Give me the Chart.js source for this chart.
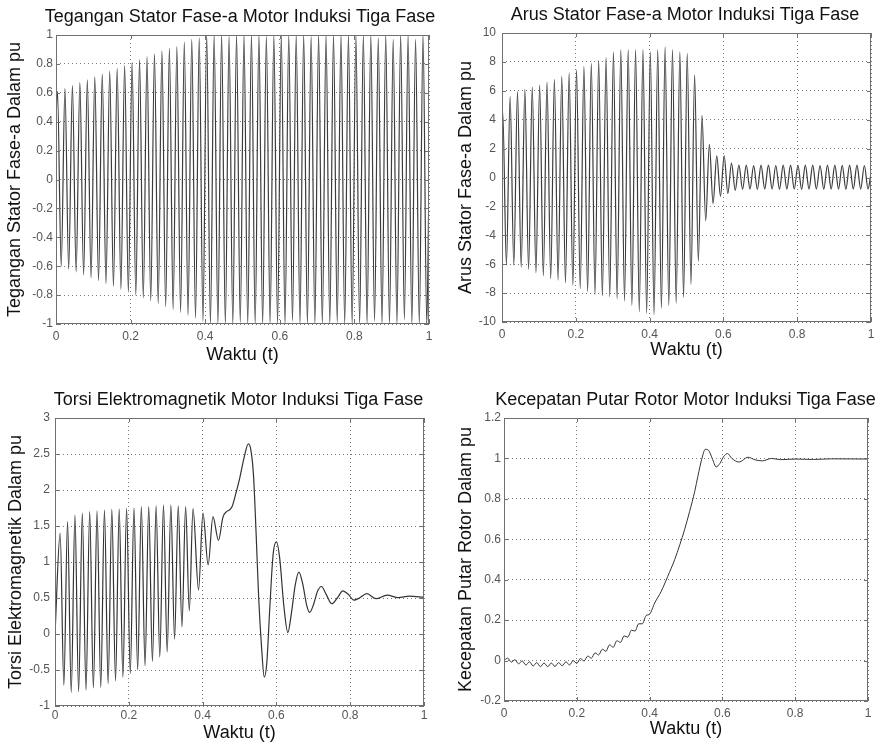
<!DOCTYPE html>
<html>
<head>
<meta charset="utf-8">
<script src="https://cdn.jsdelivr.net/npm/chart.js@4.4.1/dist/chart.umd.min.js"></script>
<style>
  html, body { margin: 0; padding: 0; background: #fff; overflow: hidden; }
  #wrap { position: relative; width: 884px; height: 744px; overflow: hidden; }
  #wrap canvas { position: absolute; }
</style>
</head>
<body>
<div id="wrap">
  <canvas id="teganganChart" width="480" height="372" style="left:0;top:0"></canvas>
  <canvas id="arusChart" width="486" height="372" style="left:442px;top:0"></canvas>
  <canvas id="torsiChart" width="477" height="372" style="left:0;top:372px"></canvas>
  <canvas id="kecepatanChart" width="487" height="372" style="left:442px;top:372px"></canvas>
</div>
<script>
var FontFam = "'Liberation Sans', Arial, sans-serif";
var HalfCycle = 0.01; // 50 Hz -> a peak or a trough every 0.01 s

// tegangan stator fase-a (peaks and troughs)
var voltStart = 0.42;
var voltFirstT = 0.004;
var voltPeaks = [
  0.61, 0.63, 0.65, 0.67, 0.69, 0.71, 0.73, 0.75, 0.77, 0.79,
  0.81, 0.83, 0.85, 0.87, 0.89, 0.91, 0.92, 0.95, 0.97, 0.98,
  1.0, 1.0, 1.0, 0.99, 1.0, 1.0, 1.0, 1.0, 0.99, 1.0,
  1.0, 1.0, 1.0, 1.0, 0.99, 1.0, 1.0, 1.0, 1.0, 1.0,
  1.0, 1.0, 1.0, 0.98, 1.0, 0.97, 1.0, 1.0, 0.97, 1.0
];
var voltTroughs = [
  -0.60, -0.62, -0.64, -0.66, -0.68, -0.70, -0.72, -0.74, -0.76, -0.78,
  -0.80, -0.82, -0.84, -0.86, -0.88, -0.90, -0.92, -0.94, -0.96, -0.98,
  -1.0, -1.0, -1.0, -1.0, -0.99, -1.0, -1.0, -1.0, -1.0, -1.0,
  -1.0, -0.98, -1.0, -1.0, -1.0, -1.0, -1.0, -0.99, -1.0, -1.0,
  -1.0, -1.0, -0.98, -1.0, -1.0, -1.0, -0.97, -1.0, -1.0, -1.0
];
var voltEnd = 0.0;

// arus stator fase-a
var arusStart = 3.8;
var arusFirstT = 0.002;
var arusPeaks = [
  4.5, 5.6, 5.95, 6.1, 6.25, 6.4, 6.6, 6.8, 7.0, 7.25,
  7.45, 7.7, 7.9, 8.1, 8.3, 8.7, 8.85, 8.85, 8.85, 8.85,
  8.7, 8.85, 9.05, 8.85, 8.7, 8.6, 7.1, 4.3, 2.3, 1.5,
  1.5, 1.0, 0.85, 0.85, 0.82, 0.85, 0.85, 0.83, 0.85, 0.85,
  0.84, 0.85, 0.85, 0.83, 0.85, 0.85, 0.84, 0.85, 0.85, 0.83
];
var arusTroughs = [
  -6.05, -6.05, -6.2, -6.35, -6.6, -6.8, -7.0, -7.1, -7.3, -7.45,
  -7.7, -7.9, -8.1, -8.2, -8.25, -8.4, -8.55, -8.85, -9.3, -9.4,
  -9.5, -9.05, -8.85, -8.7, -8.3, -7.4, -5.8, -3.0, -1.8, -1.3,
  -1.1, -0.9, -0.82, -0.8, -0.82, -0.8, -0.8, -0.82, -0.8, -0.8,
  -0.82, -0.8, -0.8, -0.82, -0.8, -0.8, -0.82, -0.8, -0.8, -0.8
];
var arusEnd = 0.3;

// torsi elektromagnetik
var torsiStart = 0.0;
var torsiFirstT = 0.014;
var torsiPeaks = [1.40, 1.56, 1.65, 1.68, 1.70, 1.71, 1.72, 1.73, 1.735, 1.745,
                  1.75, 1.77, 1.77, 1.78, 1.79, 1.79, 1.78, 1.77, 1.74];
var torsiTroughs = [-0.71, -0.81, -0.80, -0.78, -0.75, -0.74, -0.69, -0.65, -0.60, -0.55,
                    -0.50, -0.44, -0.38, -0.32, -0.25, -0.07, 0.10, 0.32];
var torsiTailT = [0.389, 0.401, 0.415, 0.428, 0.443, 0.455, 0.465, 0.472, 0.48, 0.49,
                  0.5, 0.512, 0.524, 0.531, 0.538, 0.545, 0.552, 0.56, 0.567, 0.574,
                  0.582, 0.591, 0.6, 0.609, 0.62, 0.631, 0.641, 0.651, 0.661, 0.672,
                  0.682, 0.69, 0.7, 0.712, 0.722, 0.735, 0.75, 0.765, 0.78, 0.795,
                  0.81, 0.825, 0.845, 0.87, 0.9, 0.93, 0.96, 1.0];
var torsiTailV = [0.61, 1.68, 0.96, 1.63, 1.3, 1.62, 1.7, 1.72, 1.77, 1.95,
                  2.15, 2.44, 2.64, 2.55, 2.2, 1.4, 0.5, -0.2, -0.6, -0.4,
                  0.35, 1.1, 1.28, 1.05, 0.4, 0.02, 0.3, 0.68, 0.86, 0.68,
                  0.4, 0.3, 0.4, 0.6, 0.66, 0.55, 0.42, 0.5, 0.6, 0.55,
                  0.47, 0.5, 0.56, 0.49, 0.54, 0.505, 0.525, 0.51];

// kecepatan putar rotor
var speedT = [0, 0.01, 0.02, 0.03, 0.04, 0.05, 0.06, 0.07, 0.08, 0.09,
              0.1, 0.11, 0.12, 0.13, 0.14, 0.15, 0.16, 0.17, 0.18, 0.19,
              0.2, 0.21, 0.22, 0.23, 0.24, 0.25, 0.26, 0.27, 0.28, 0.29,
              0.3, 0.31, 0.32, 0.33, 0.34, 0.35, 0.36, 0.37, 0.38, 0.39,
              0.4, 0.414, 0.432, 0.45, 0.469, 0.483, 0.496, 0.51, 0.524, 0.533,
              0.543, 0.553, 0.562, 0.572, 0.583, 0.593, 0.603, 0.614, 0.626, 0.646,
              0.67, 0.69, 0.71, 0.735, 0.76, 0.8, 0.85, 0.9, 1.0];
var speedV = [0.0, 0.012, -0.008, 0.004, -0.016, -0.002, -0.022, -0.006, -0.027, -0.010,
              -0.030, -0.012, -0.030, -0.012, -0.029, -0.010, -0.026, -0.006, -0.022, 0.0,
              -0.014, 0.010, -0.002, 0.022, 0.012, 0.038, 0.028, 0.056, 0.046, 0.078,
              0.066, 0.098, 0.090, 0.122, 0.116, 0.150, 0.146, 0.182, 0.182, 0.222,
              0.230, 0.285, 0.343, 0.417, 0.5, 0.573, 0.647, 0.738, 0.837, 0.915,
              0.995, 1.045, 1.04, 1.0, 0.958, 0.975, 1.008, 1.024, 1.0, 0.982,
              1.006, 0.993, 0.988, 1.0, 0.994, 0.997, 0.995, 0.998, 0.997];


// peaks and troughs alternate on the 50 Hz grid
function waveform(start, firstT, peaks, troughs, end) {
    var pts = [{ x: 0, y: start }];
    var n = peaks.length + troughs.length;
    for (var i = 0; i < n; i++) {
        var v = (i % 2 === 0) ? peaks[i / 2] : troughs[(i - 1) / 2];
        pts.push({ x: firstT + i * HalfCycle, y: v });
    }
    if (end !== null) pts.push({ x: 1, y: end });
    return pts;
}

function pairs(ts, vs) {
    var pts = [];
    for (var i = 0; i < ts.length; i++) pts.push({ x: ts[i], y: vs[i] });
    return pts;
}

// matlab prints 1, 0.8, 0 ... not 1.0, 0.0
function shortNum(v) {
    return String(Number(v.toFixed(4)));
}

// MATLAB style box with inward tick marks
const boxPlugin = {
    id: 'boxPlugin',
    afterDraw(chart) {
        var a = chart.chartArea, c = chart.ctx;
        var sx = chart.scales.x, sy = chart.scales.y;
        c.save();
        c.strokeStyle = '#707070';
        c.lineWidth = 1;
        c.strokeRect(a.left + 0.5, a.top + 0.5, a.width - 1, a.height - 1);
        c.beginPath();
        sx.ticks.forEach(function (t) {
            var px = Math.round(sx.getPixelForValue(t.value)) + 0.5;
            c.moveTo(px, a.bottom); c.lineTo(px, a.bottom - 4);
            c.moveTo(px, a.top); c.lineTo(px, a.top + 4);
        });
        sy.ticks.forEach(function (t) {
            var py = Math.round(sy.getPixelForValue(t.value)) + 0.5;
            c.moveTo(a.left, py); c.lineTo(a.left + 4, py);
            c.moveTo(a.right, py); c.lineTo(a.right - 4, py);
        });
        c.stroke();
        c.restore();
    }
};

function makeChart(id, pts, p) {
    return new Chart(document.getElementById(id), {
        type: 'line',
        data: {
            datasets: [{
                data: pts,
                borderColor: p.lineColor,
                borderWidth: p.lineWidth,
                pointRadius: 0,
                fill: false,
                cubicInterpolationMode: 'monotone'
            }]
        },
        options: {
            responsive: false,
            animation: false,
            events: [],
            layout: { padding: 0 },
            plugins: {
                legend: { display: false },
                tooltip: { enabled: false },
                title: {
                    display: true,
                    text: p.title,
                    color: '#111',
                    font: { family: FontFam, size: 18, weight: 'normal', lineHeight: 1.2 },
                    padding: { top: p.titleTop, bottom: p.titleBottom }
                }
            },
            scales: {
                x: {
                    type: 'linear',
                    min: 0,
                    max: 1,
                    ticks: { stepSize: 0.2, color: '#555', padding: p.xTickPad, maxRotation: 0,
                             font: { family: FontFam, size: 12 }, callback: shortNum },
                    grid: { color: '#7a7a7a', drawTicks: false },
                    border: { display: false, dash: [1, 3] },
                    title: { display: true, text: 'Waktu (t)', color: '#111',
                             font: { family: FontFam, size: 18, lineHeight: 1.2 },
                             padding: { top: 0, bottom: p.xTitleBottom } },
                    afterFit: function (s) { s.height = p.xHeight; }
                },
                y: {
                    type: 'linear',
                    min: p.yMin,
                    max: p.yMax,
                    ticks: { stepSize: p.yStep, color: '#555', padding: p.yTickPad,
                             font: { family: FontFam, size: 12 }, callback: shortNum },
                    grid: { color: '#7a7a7a', drawTicks: false },
                    border: { display: false, dash: [1, 3] },
                    title: { display: true, text: p.yTitle, color: '#111',
                             font: { family: FontFam, size: 18, lineHeight: 1.2 },
                             padding: { top: p.yTitlePad, bottom: 0 } },
                    afterFit: function (s) { s.width = p.yWidth; }
                },
                // empty right-hand strip so the title stays centred over the plot
                gap: {
                    type: 'linear',
                    position: 'right',
                    ticks: { display: false },
                    grid: { display: false },
                    border: { display: false },
                    afterFit: function (s) { s.width = p.padRight; }
                }
            }
        },
        plugins: [boxPlugin]
    });
}

makeChart('teganganChart', waveform(voltStart, voltFirstT, voltPeaks, voltTroughs, voltEnd), {
    title: 'Tegangan Stator Fase-a Motor Induksi Tiga Fase',
    yTitle: 'Tegangan Stator Fase-a Dalam pu',
    yMin: -1, yMax: 1, yStep: 0.2,
    lineColor: '#3c3c3c', lineWidth: 1.2,
    padRight: 51, yWidth: 56, xHeight: 48,
    titleTop: 6.2, titleBottom: 7.2, xTitleBottom: 6.2, yTitlePad: 4.2,
    xTickPad: 5, yTickPad: 3
});

makeChart('arusChart', waveform(arusStart, arusFirstT, arusPeaks, arusTroughs, arusEnd), {
    title: 'Arus Stator Fase-a Motor Induksi Tiga Fase',
    yTitle: 'Arus Stator Fase-a Dalam pu',
    yMin: -10, yMax: 10, yStep: 2,
    lineColor: '#3c3c3c', lineWidth: 1.2,
    padRight: 57, yWidth: 60, xHeight: 50,
    titleTop: 4.2, titleBottom: 7.2, xTitleBottom: 11.2, yTitlePad: 13.2,
    xTickPad: 5, yTickPad: 6
});

var torsiPts = waveform(torsiStart, torsiFirstT, torsiPeaks, torsiTroughs, null)
    .concat(pairs(torsiTailT, torsiTailV));
makeChart('torsiChart', torsiPts, {
    title: 'Torsi Elektromagnetik Motor Induksi Tiga Fase',
    yTitle: 'Torsi Elektromagnetik Dalam pu',
    yMin: -1, yMax: 3, yStep: 0.5,
    lineColor: '#333', lineWidth: 1.2,
    padRight: 53, yWidth: 55, xHeight: 38,
    titleTop: 17.2, titleBottom: 7.2, xTitleBottom: 0.2, yTitlePad: 5.2,
    xTickPad: 2, yTickPad: 5
});

makeChart('kecepatanChart', pairs(speedT, speedV), {
    title: 'Kecepatan Putar Rotor Motor Induksi Tiga Fase',
    yTitle: 'Kecepatan Putar Rotor Dalam pu',
    yMin: -0.2, yMax: 1.2, yStep: 0.2,
    lineColor: '#333', lineWidth: 1,
    padRight: 61, yWidth: 62, xHeight: 43,
    titleTop: 17.2, titleBottom: 7.2, xTitleBottom: 4.2, yTitlePad: 13.2,
    xTickPad: 5, yTickPad: 3
});
</script>
</body>
</html>
